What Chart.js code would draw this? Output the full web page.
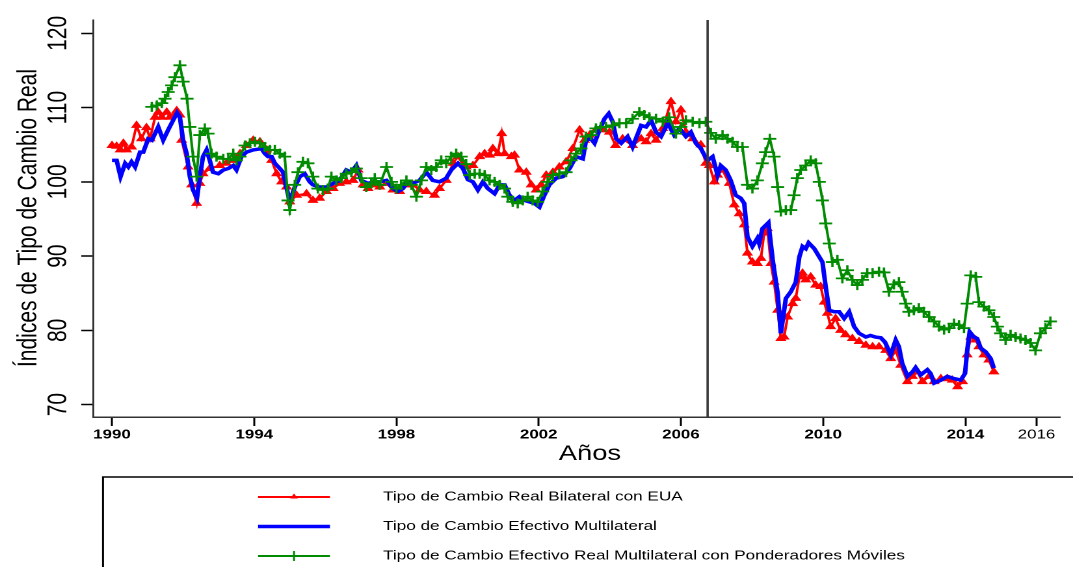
<!DOCTYPE html>
<html>
<head>
<meta charset="utf-8">
<script src="https://cdn.jsdelivr.net/npm/chart.js@4.4.1/dist/chart.umd.min.js"></script>
<style>
html,body{margin:0;padding:0;background:#fff;overflow:hidden;}
#wrap{width:825px;height:567px;transform:scaleX(1.3006);transform-origin:0 0;}
</style>
</head>
<body>
<div id="wrap"><canvas id="c" width="825" height="567"></canvas></div>
<script>
// ---------- DATA ----------
const seriesLabels = [
  "Tipo de Cambio Real Bilateral con EUA",
  "Tipo de Cambio Efectivo Multilateral",
  "Tipo de Cambio Efectivo Real Multilateral con Ponderadores Móviles"
];
const xTickLabels = [1990, 1994, 1998, 2002, 2006, 2010, 2014, 2016];
const yTickLabels = [70, 80, 90, 100, 110, 120];
const breakYear = 2006.75;

const redYears = [1990.00,1990.13,1990.23,1990.32,1990.41,1990.55,1990.69,1990.83,1990.97,1991.07,1991.21,1991.30,1991.40,1991.54,1991.63,1991.82,1991.91,1991.96,1992.14,1992.24,1992.38,1992.47,1992.56,1992.75,1993.03,1993.22,1993.41,1993.60,1993.78,1993.97,1994.16,1994.35,1994.49,1994.63,1994.77,1994.91,1995.00,1995.19,1995.47,1995.65,1995.84,1996.03,1996.22,1996.40,1996.59,1996.78,1996.92,1997.06,1997.20,1997.39,1997.53,1997.72,1997.90,1998.09,1998.28,1998.46,1998.65,1998.84,1999.07,1999.21,1999.40,1999.59,1999.73,1999.87,1999.96,2000.15,2000.34,2000.48,2000.62,2000.71,2000.85,2000.96,2001.04,2001.23,2001.32,2001.46,2001.65,2001.79,2001.93,2002.07,2002.21,2002.40,2002.58,2002.77,2002.96,2003.15,2003.29,2003.43,2003.61,2003.80,2003.99,2004.16,2004.36,2004.64,2004.88,2005.02,2005.16,2005.30,2005.49,2005.72,2005.86,2006.00,2006.14,2006.33,2006.56,2006.70,2006.80,2006.94,2007.03,2007.17,2007.36,2007.50,2007.64,2007.78,2007.87,2008.01,2008.15,2008.25,2008.34,2008.43,2008.53,2008.62,2008.72,2008.81,2008.90,2009.00,2009.14,2009.23,2009.33,2009.42,2009.51,2009.65,2009.79,2009.93,2010.03,2010.12,2010.21,2010.35,2010.49,2010.63,2010.82,2011.01,2011.20,2011.39,2011.57,2011.76,2011.90,2012.04,2012.18,2012.37,2012.51,2012.65,2012.79,2012.98,2013.12,2013.31,2013.49,2013.63,2013.78,2013.92,2014.05,2014.15,2014.29,2014.38,2014.52,2014.66,2014.80];
const redValues = [104.9,104.8,104.3,105.2,104.3,104.7,107.6,105.8,107.3,105.8,108.7,109.4,108.7,109.4,108.7,109.6,109.0,105.6,102.0,99.6,97.1,99.8,101.1,101.8,102.2,102.5,102.9,103.8,104.9,105.6,105.4,104.3,102.9,101.1,100.0,99.3,97.3,98.2,98.4,97.5,97.8,98.7,99.1,99.8,100.0,100.2,101.6,99.6,99.1,99.6,99.3,99.8,98.9,98.7,99.6,99.6,98.9,98.7,98.2,99.1,100.2,102.5,103.4,102.4,102.0,102.2,103.4,103.8,103.6,104.5,103.8,106.5,103.8,103.4,103.6,101.6,101.3,99.6,98.9,99.6,100.9,101.3,102.0,102.7,104.5,107.0,105.6,106.3,107.0,107.0,106.7,104.9,105.8,104.9,105.8,105.4,106.5,105.6,107.2,110.8,108.1,109.7,106.7,105.8,105.0,102.5,102.2,100.0,100.9,101.6,99.8,96.9,95.7,94.2,90.4,89.2,89.0,89.7,93.1,93.7,89.0,86.5,82.7,78.9,79.1,81.8,83.6,84.3,87.2,87.7,86.8,87.2,86.1,85.9,83.8,82.3,80.5,81.6,80.0,79.4,78.9,78.5,78.0,77.8,77.8,77.3,76.2,77.3,75.3,73.1,73.8,74.4,73.1,73.8,73.1,73.5,73.5,73.3,72.4,73.1,76.7,79.1,78.7,77.8,76.7,76.0,74.4];

const blueYears = [1990.00,1990.13,1990.24,1990.37,1990.46,1990.55,1990.65,1990.79,1990.88,1991.02,1991.12,1991.21,1991.30,1991.44,1991.58,1991.72,1991.83,1991.91,1992.00,1992.10,1992.19,1992.28,1992.39,1992.47,1992.56,1992.66,1992.75,1992.84,1992.99,1993.13,1993.27,1993.41,1993.50,1993.64,1993.78,1993.97,1994.11,1994.20,1994.30,1994.39,1994.49,1994.58,1994.72,1994.81,1995.00,1995.14,1995.28,1995.42,1995.56,1995.65,1995.84,1996.03,1996.22,1996.40,1996.59,1996.73,1996.87,1997.01,1997.20,1997.39,1997.53,1997.72,1997.90,1998.04,1998.18,1998.32,1998.46,1998.65,1998.84,1999.02,1999.21,1999.40,1999.54,1999.73,1999.87,2000.01,2000.15,2000.29,2000.43,2000.57,2000.76,2000.90,2001.04,2001.18,2001.32,2001.46,2001.60,2001.74,2001.88,2002.02,2002.16,2002.30,2002.49,2002.68,2002.87,2003.05,2003.24,2003.33,2003.47,2003.57,2003.71,2003.85,2003.97,2004.08,2004.18,2004.32,2004.50,2004.64,2004.88,2005.02,2005.16,2005.30,2005.44,2005.63,2005.81,2005.96,2006.14,2006.28,2006.42,2006.56,2006.66,2006.75,2006.89,2007.03,2007.12,2007.26,2007.40,2007.54,2007.68,2007.78,2007.87,2008.01,2008.15,2008.20,2008.29,2008.46,2008.58,2008.72,2008.81,2008.95,2009.09,2009.23,2009.33,2009.42,2009.51,2009.59,2009.75,2009.89,2009.98,2010.07,2010.17,2010.31,2010.45,2010.59,2010.73,2010.87,2011.01,2011.20,2011.33,2011.47,2011.62,2011.74,2011.90,2012.04,2012.13,2012.22,2012.37,2012.51,2012.60,2012.74,2012.93,2013.02,2013.12,2013.31,2013.49,2013.68,2013.87,2013.99,2014.05,2014.12,2014.24,2014.33,2014.43,2014.57,2014.71,2014.80];
const blueValues = [102.9,102.9,100.7,102.5,102.0,102.7,102.0,104.0,104.0,105.8,105.6,106.5,107.4,105.6,107.0,108.3,109.3,108.7,105.6,103.8,100.7,98.9,97.8,100.7,103.4,104.3,102.9,101.3,101.1,101.6,101.8,102.2,101.6,103.4,104.0,104.3,104.4,104.5,103.8,103.4,103.4,102.5,101.8,101.3,97.3,99.3,100.7,101.1,100.0,99.6,99.3,99.3,99.8,100.2,101.6,101.3,102.2,100.2,99.8,100.0,100.0,100.2,99.1,98.7,99.1,100.0,99.8,100.2,101.3,100.2,100.0,100.5,101.6,102.5,101.8,100.3,100.0,98.9,100.0,99.1,98.4,99.6,99.6,98.2,97.5,98.0,97.5,97.3,97.1,96.6,98.2,99.6,100.5,100.7,101.8,103.4,103.1,105.6,105.8,105.2,107.0,108.5,109.2,108.1,105.8,105.2,106.1,104.7,107.6,107.4,108.3,106.7,106.1,107.9,106.3,107.2,106.1,106.7,105.2,104.5,103.6,102.9,103.4,100.9,102.2,101.6,100.2,98.2,97.8,97.1,92.6,91.3,92.4,91.7,93.7,94.5,89.5,85.0,79.6,84.3,85.2,86.5,89.9,91.3,91.0,91.8,91.0,89.9,89.2,85.9,82.7,82.5,82.5,81.6,82.5,80.5,79.6,79.1,79.3,79.1,79.0,78.4,76.7,78.7,77.8,75.6,73.8,74.4,75.0,74.0,74.7,74.2,72.9,73.3,73.8,73.5,73.3,74.2,77.3,79.8,79.1,78.9,77.6,77.1,76.2,74.9];

const greenYears = [1991.12,1991.26,1991.40,1991.49,1991.58,1991.68,1991.77,1991.91,1992.00,1992.11,1992.19,1992.28,1992.38,1992.47,1992.61,1992.70,1992.80,1992.94,1993.13,1993.27,1993.41,1993.50,1993.60,1993.74,1993.88,1994.02,1994.16,1994.30,1994.44,1994.58,1994.72,1994.86,1994.95,1995.00,1995.14,1995.23,1995.37,1995.51,1995.65,1995.79,1995.93,1996.07,1996.17,1996.31,1996.45,1996.59,1996.73,1996.87,1997.01,1997.15,1997.29,1997.39,1997.53,1997.72,1997.86,1998.00,1998.13,1998.28,1998.42,1998.56,1998.70,1998.84,1998.98,1999.12,1999.26,1999.40,1999.54,1999.68,1999.82,1999.96,2000.06,2000.20,2000.34,2000.48,2000.62,2000.76,2000.90,2001.04,2001.13,2001.27,2001.41,2001.55,2001.69,2001.83,2001.97,2002.11,2002.25,2002.40,2002.58,2002.77,2002.91,2003.05,2003.19,2003.33,2003.47,2003.61,2003.75,2003.89,2004.08,2004.27,2004.46,2004.64,2004.83,2004.97,2005.11,2005.30,2005.49,2005.67,2005.86,2006.00,2006.14,2006.33,2006.52,2006.70,2006.84,2006.98,2007.17,2007.31,2007.45,2007.59,2007.73,2007.87,2008.01,2008.15,2008.29,2008.38,2008.50,2008.62,2008.72,2008.81,2008.95,2009.09,2009.18,2009.27,2009.37,2009.51,2009.65,2009.79,2009.89,2009.98,2010.07,2010.17,2010.26,2010.40,2010.54,2010.68,2010.82,2010.96,2011.10,2011.24,2011.39,2011.57,2011.71,2011.85,2011.99,2012.13,2012.22,2012.32,2012.41,2012.55,2012.69,2012.83,2012.98,2013.12,2013.26,2013.40,2013.54,2013.68,2013.82,2013.96,2014.05,2014.15,2014.29,2014.38,2014.52,2014.66,2014.80,2014.90,2014.99,2015.13,2015.27,2015.41,2015.55,2015.69,2015.83,2015.97,2016.11,2016.25,2016.39];
const greenValues = [110.1,110.3,110.6,111.2,112.1,113.0,114.1,115.7,113.5,111.2,107.4,103.4,100.7,106.3,107.2,106.5,103.8,103.4,103.1,103.1,103.8,102.9,103.4,104.9,105.2,105.4,105.2,104.7,104.3,104.3,103.8,103.4,97.5,96.2,99.6,101.3,102.7,102.5,100.7,99.1,98.9,99.1,100.7,100.2,100.5,101.1,101.3,101.8,100.5,99.3,99.8,100.5,99.6,102.0,100.0,99.1,99.6,100.2,99.6,98.0,100.2,102.0,101.6,102.0,102.9,102.5,103.4,103.8,103.4,102.4,100.9,101.1,101.1,100.9,100.2,100.0,99.6,99.1,98.0,97.3,97.1,97.5,98.0,97.5,97.3,98.7,100.0,100.9,101.1,101.3,102.9,103.8,104.5,106.1,106.3,107.2,107.4,107.4,107.6,107.9,107.9,108.5,109.4,109.0,108.7,108.5,108.1,108.7,106.5,107.4,108.3,108.1,107.9,108.1,106.6,105.8,106.3,105.8,105.4,104.7,104.7,99.6,99.1,100.2,102.5,104.0,105.8,103.4,99.3,96.0,96.2,96.2,98.2,100.5,101.6,102.2,102.9,102.5,100.0,97.5,94.4,91.7,89.2,89.5,87.0,88.1,86.8,86.1,86.8,87.7,87.7,87.9,87.8,85.2,86.2,86.5,85.2,83.6,82.5,82.7,83.0,82.5,81.8,81.2,80.5,80.1,80.3,80.9,80.7,80.3,83.6,87.4,87.2,83.8,83.2,82.7,81.8,80.5,79.6,78.7,79.4,79.1,78.9,78.7,78.3,77.3,79.6,80.3,81.2];

// ---------- STYLE ----------
const FONT = "'Liberation Sans', Arial, Helvetica, sans-serif";
const RED = '#ff0000', BLUE = '#0000ff', GREEN = '#008b00';

const zip = (xs, ys) => xs.map((x, i) => ({x: x, y: ys[i]}));

const decorPlugin = {
  id: 'decor',
  afterDatasetsDraw(chart) {
    const ctx = chart.ctx, xs = chart.scales.x, a = chart.chartArea;
    const px = xs.getPixelForValue(breakYear);
    ctx.save();
    ctx.strokeStyle = '#3a3a3a';
    ctx.lineWidth = 1.8;
    ctx.beginPath();
    ctx.moveTo(px, a.top);
    ctx.lineTo(px, a.bottom);
    ctx.stroke();
    ctx.restore();
  },
  afterDraw(chart) {
    const ctx = chart.ctx;
    ctx.save();
    ctx.fillStyle = '#000';
    // x title
    ctx.font = '21px ' + FONT;
    ctx.textAlign = 'center';
    ctx.textBaseline = 'alphabetic';
    ctx.fillText('Años', 453.6, 460);
    // y title
    ctx.save();
    ctx.translate(28, 218);
    ctx.rotate(-Math.PI / 2);
    ctx.fillText('Índices de Tipo de Cambio Real', 0, 0);
    ctx.restore();
    // legend box
    ctx.strokeStyle = '#000';
    ctx.lineWidth = 1.5;
    ctx.strokeRect(79.2, 477, 800, 120);
    const rows = [497, 526.5, 556];
    const x0 = 198.4, x1 = 253.7, xm = (x0 + x1) / 2;
    const ds = chart.data.datasets;
    ds.forEach((d, i) => {
      const y = rows[i];
      ctx.strokeStyle = d.borderColor;
      ctx.lineWidth = i === 1 ? 3.5 : 2;
      ctx.beginPath(); ctx.moveTo(x0, y); ctx.lineTo(x1, y); ctx.stroke();
      if (i === 0) {
        ctx.fillStyle = RED;
        ctx.beginPath();
        ctx.moveTo(xm, y - 3.5); ctx.lineTo(xm + 3, y + 1.5); ctx.lineTo(xm - 3, y + 1.5);
        ctx.closePath(); ctx.fill();
      }
      if (i === 2) {
        ctx.lineWidth = 1.5;
        ctx.beginPath(); ctx.moveTo(xm, y - 5); ctx.lineTo(xm, y + 5); ctx.stroke();
      }
      ctx.fillStyle = '#000';
      ctx.font = '13.2px ' + FONT;
      ctx.textAlign = 'left';
      ctx.textBaseline = 'middle';
      ctx.fillText(d.label, 294.5, y);
    });
    ctx.restore();
  }
};

new Chart(document.getElementById('c'), {
  type: 'line',
  data: {
    datasets: [
      {label: seriesLabels[0], data: zip(redYears, redValues), borderColor: RED, backgroundColor: RED,
       borderWidth: 2, pointStyle: 'triangle', pointRadius: 4, pointBorderWidth: 1,
       pointBackgroundColor: RED, pointBorderColor: RED, order: 3},
      {label: seriesLabels[1], data: zip(blueYears, blueValues), borderColor: BLUE, backgroundColor: BLUE,
       borderWidth: 3.5, pointRadius: 0, order: 2},
      {label: seriesLabels[2], data: zip(greenYears, greenValues), borderColor: GREEN, backgroundColor: GREEN,
       borderWidth: 2, pointStyle: 'cross', pointRadius: 5, pointBorderWidth: 1.8,
       pointBorderColor: GREEN, order: 1}
    ]
  },
  options: {
    responsive: false,
    devicePixelRatio: 2,
    animation: false,
    events: [],
    layout: {padding: {top: 20, right: 10, left: 0, bottom: 0}},
    plugins: {legend: {display: false}, tooltip: {enabled: false}},
    elements: {line: {tension: 0, fill: false}},
    scales: {
      x: {
        type: 'linear', min: 1989.466, max: 2016.66,
        afterBuildTicks: s => { s.ticks = xTickLabels.map(v => ({value: v})); },
        afterFit: s => { s.height = 150; s.paddingLeft = 0; s.paddingRight = 0; },
        grid: {drawOnChartArea: false, drawTicks: true, tickLength: 9, tickWidth: 1.5, tickColor: '#000'},
        border: {display: true, color: '#333', width: 1.5},
        ticks: {
          autoSkip: false, maxRotation: 0, minRotation: 0, padding: 1, color: '#000',
          font: c => ({family: FONT, size: 13, weight: (c.tick && c.tick.value === 2016) ? 'normal' : 'bold'}),
          callback: v => String(v)
        }
      },
      y: {
        type: 'linear', min: 68.33, max: 121.8,
        afterBuildTicks: s => { s.ticks = yTickLabels.map(v => ({value: v})); },
        afterFit: s => { s.width = 71.5; s.paddingTop = 0; s.paddingBottom = 0; },
        grid: {drawOnChartArea: false, drawTicks: true, tickLength: 9, tickWidth: 1.5, tickColor: '#000'},
        border: {display: true, color: '#333', width: 1.5},
        ticks: {
          minRotation: 90, maxRotation: 90, crossAlign: 'center', padding: 0, color: '#000',
          font: {family: FONT, size: 21},
          callback: v => String(v)
        }
      }
    }
  },
  plugins: [decorPlugin]
});
</script>
</body>
</html>
